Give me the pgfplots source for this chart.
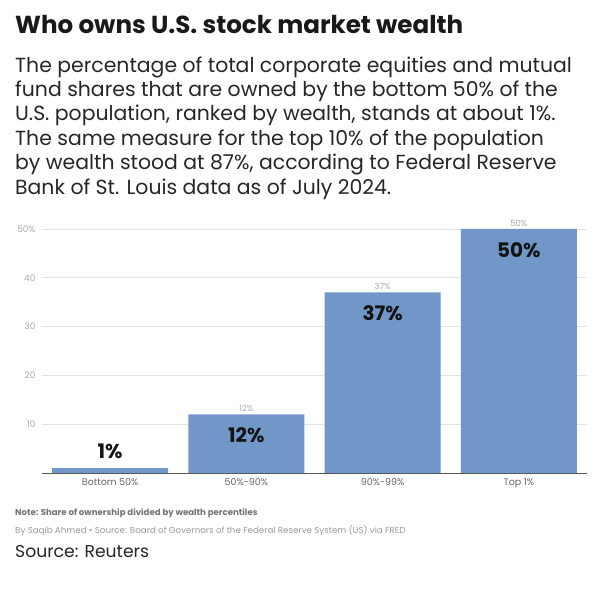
\documentclass[border=0pt]{standalone}
\usepackage{pgfplots}
\pgfplotsset{compat=1.18}
\usepackage{fontspec}
\setmainfont{Poppins}
\definecolor{barblue}{HTML}{7097C7}
\definecolor{gridgray}{HTML}{E2E2E2}
\definecolor{ticktxt}{HTML}{A8A8A8}
\definecolor{cattxt}{HTML}{666666}
\begin{document}
\begin{tikzpicture}[x=1pt,y=1pt]
\path[use as bounding box] (0,0) rectangle (600,597);
% heading
\node[anchor=base west,inner sep=0,font=\fontsize{24.6}{24.6}\selectfont\bfseries,text=black!90] at (15,563) {Who owns U.S. stock market wealth};
\begin{scope}[every node/.style={anchor=base west,inner sep=0,font=\fontsize{20.4}{20.4}\selectfont,text=black!85}]
\node at (15,524) {The percentage of total corporate equities and mutual};
\node at (15,500) {fund shares that are owned by the bottom 50\% of the};
\node at (15,476) {U.S. population, ranked by wealth, stands at about 1\%.};
\node at (15,451.5) {The same measure for the top 10\% of the population};
\node at (15,427) {by wealth stood at 87\%, according to Federal Reserve};
\node at (15,402.5) {Bank of St. Louis data as of July 2024.};
\end{scope}
\begin{axis}[
  at={(42pt,124pt)}, anchor=south west,
  scale only axis, width=545pt, height=244pt,
  xmin=-0.5, xmax=3.5, ymin=0, ymax=50,
  axis x line*=bottom, axis y line*=left,
  x axis line style={draw=black!65, line width=0.8pt, -},
  y axis line style={draw=none},
  ymajorgrids, grid style={gridgray, line width=0.6pt},
  ytick={10,20,30,40,50}, yticklabels={10,20,30,40,50\%},
  xtick=data, xticklabels={Bottom 50\%,50\%-90\%,90\%-99\%,Top 1\%},
  major tick length=0pt,
  yticklabel style={font=\fontsize{9}{9}\selectfont, text=ticktxt, anchor=east, xshift=-3pt},
  xticklabel style={font=\fontsize{9.5}{9.5}\selectfont, text=cattxt, yshift=-2pt},
  /pgf/number format/assume math mode=true,
  ybar, bar width=0.85, bar shift=0pt,
  clip=false,
]
\addplot[fill=barblue, draw=none] coordinates {(0,1) (1,12) (2,37) (3,50)};
% small grey value labels above bars
\addplot[draw=none, fill=none, forget plot,
  nodes near coords={\pgfmathprintnumber{\pgfplotspointmeta}\%},
  nodes near coords style={font=\fontsize{8.5}{8.5}\selectfont, text=ticktxt, anchor=south, yshift=-1pt}]
  coordinates {(1,12) (2,37) (3,50)};
% bold value labels inside bars
\addplot[draw=none, fill=none, forget plot,
  nodes near coords={\pgfmathprintnumber{\pgfplotspointmeta}\%},
  nodes near coords style={font=\fontsize{20}{20}\selectfont\bfseries, text=black!92, anchor=north, yshift=-10pt}]
  coordinates {(1,12) (2,37) (3,50)};
% bold label above the short bar
\addplot[draw=none, fill=none, forget plot,
  nodes near coords={\pgfmathprintnumber{\pgfplotspointmeta}\%},
  nodes near coords style={font=\fontsize{20}{20}\selectfont\bfseries, text=black!92, anchor=south, yshift=6pt}]
  coordinates {(0,1)};
\end{axis}
% notes
\node[anchor=base west,inner sep=0,font=\fontsize{8.6}{8.6}\selectfont\bfseries,text=black!55] at (15,81) {Note: Share of ownership divided by wealth percentiles};
\node[anchor=base west,inner sep=0,font=\fontsize{8.7}{8.7}\selectfont,text=black!40] at (15,63) {By Saqib Ahmed • Source: Board of Governors of the Federal Reserve System (US) via FRED};
\node[anchor=base west,inner sep=0,font=\fontsize{17.2}{17.2}\selectfont,text=black!85] at (15,39) {Source: Reuters};
\end{tikzpicture}
\end{document}
